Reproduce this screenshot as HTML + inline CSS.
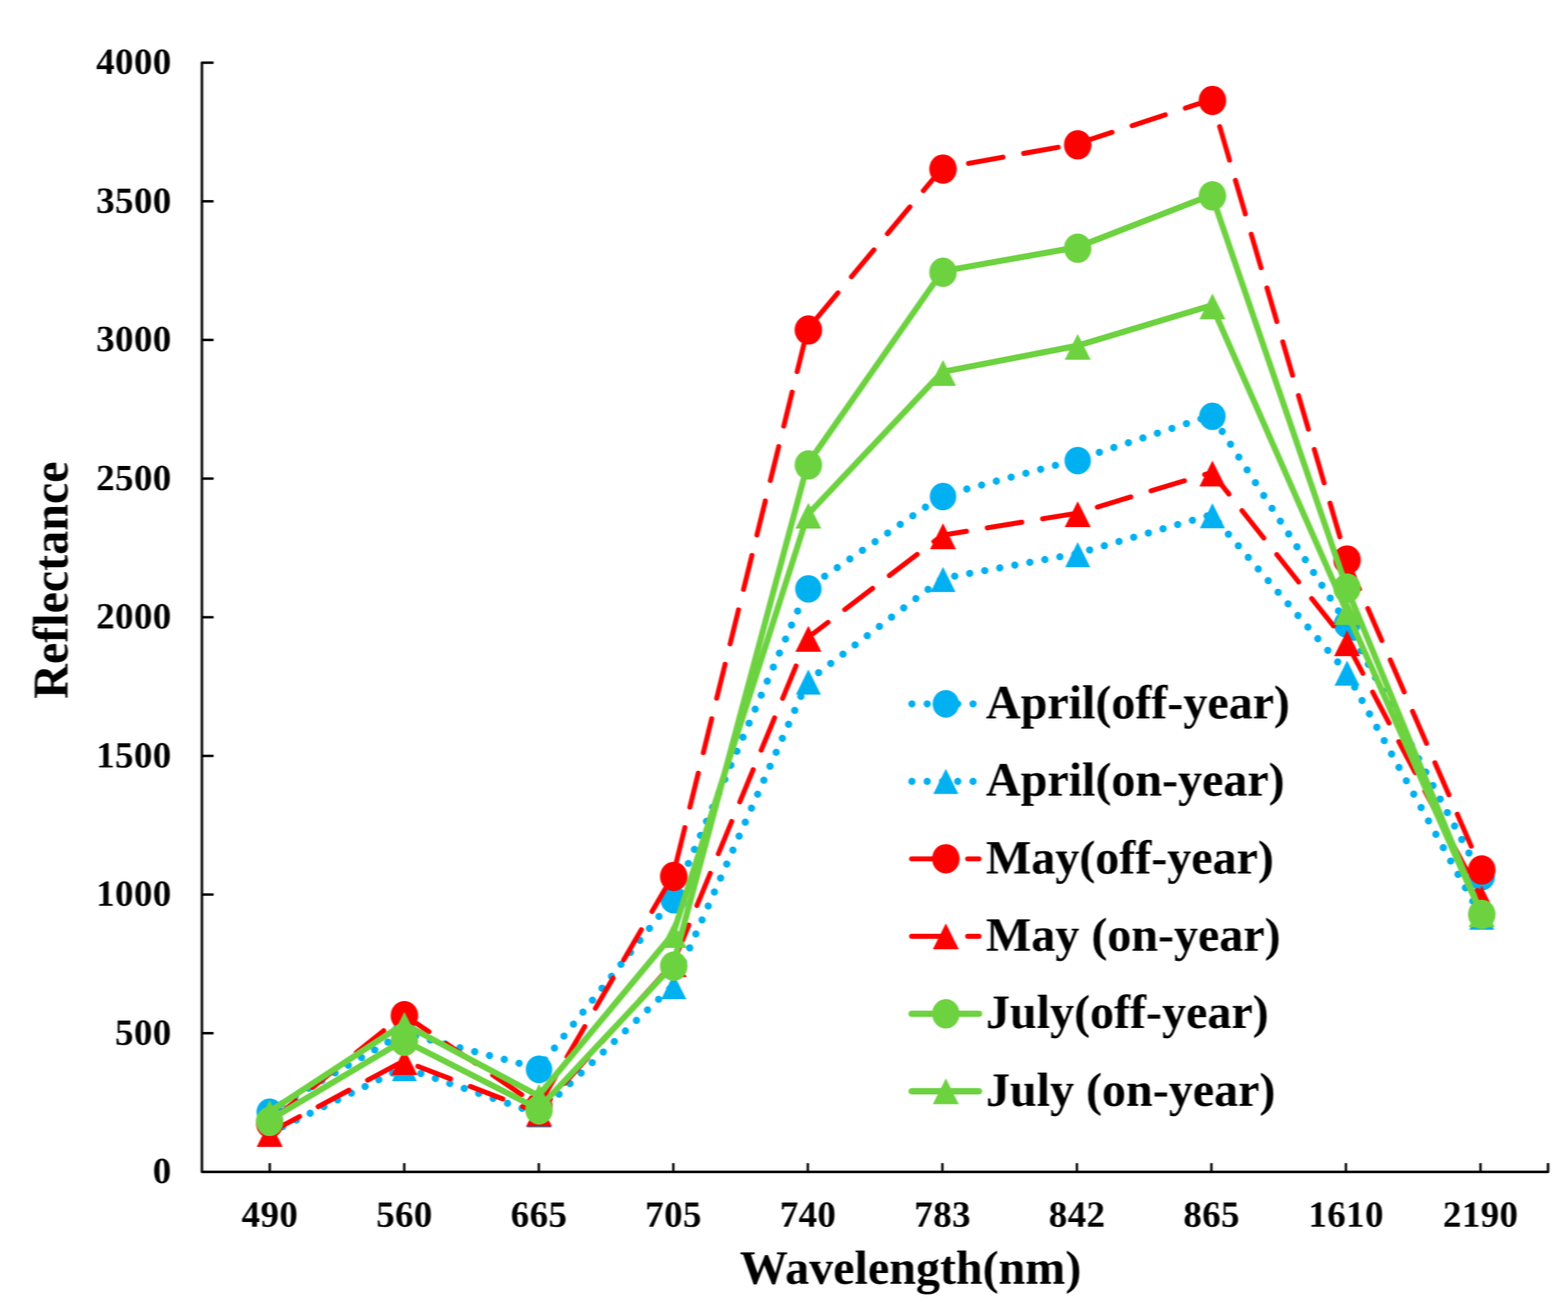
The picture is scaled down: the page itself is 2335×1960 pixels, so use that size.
<!DOCTYPE html>
<html lang="en"><head><meta charset="utf-8"><title>Reflectance vs Wavelength</title>
<style>html,body{margin:0;padding:0;background:#fff}svg{display:block}text{text-rendering:geometricPrecision;font-family:"Liberation Serif","DejaVu Serif",serif;font-weight:bold;fill:#000}.tk{font-size:55px;letter-spacing:0.6px}.tt{font-size:71.5px}.lg{font-size:71.5px}</style></head><body>
<svg width="2335" height="1960" viewBox="0 0 2335 1960">
<rect width="2335" height="1960" fill="#fff"/>
<defs><filter id="soft" filterUnits="userSpaceOnUse" x="0" y="0" width="2335" height="1960" color-interpolation-filters="sRGB"><feGaussianBlur stdDeviation="1.3 0.7"/></filter></defs>
<g filter="url(#soft)">
<g id="series">
<path d="M400.6 1655.1 L601.2 1538.5 L801.7 1591.1 L1002.3 1338.5 L1202.8 875.5 L1403.3 738 L1603.9 684.5 L1804.5 618.5 L2005 928 L2205.6 1304.3" fill="none" stroke="#00B0F0" stroke-width="10.8" stroke-linecap="round" stroke-linejoin="round" stroke-dasharray="0.01 22.745"/>
<ellipse cx="401.6" cy="1656.6" rx="19.7" ry="20.6" fill="#00B0F0"/>
<ellipse cx="602.2" cy="1540" rx="19.7" ry="20.6" fill="#00B0F0"/>
<ellipse cx="802.7" cy="1592.6" rx="19.7" ry="20.6" fill="#00B0F0"/>
<ellipse cx="1003.3" cy="1340" rx="19.7" ry="20.6" fill="#00B0F0"/>
<ellipse cx="1203.8" cy="877" rx="19.7" ry="20.6" fill="#00B0F0"/>
<ellipse cx="1404.3" cy="739.5" rx="19.7" ry="20.6" fill="#00B0F0"/>
<ellipse cx="1604.9" cy="686" rx="19.7" ry="20.6" fill="#00B0F0"/>
<ellipse cx="1805.5" cy="620" rx="19.7" ry="20.6" fill="#00B0F0"/>
<ellipse cx="2006" cy="929.5" rx="19.7" ry="20.6" fill="#00B0F0"/>
<ellipse cx="2206.6" cy="1305.8" rx="19.7" ry="20.6" fill="#00B0F0"/>
<path d="M400.6 1688 L601.2 1590 L801.7 1659 L1002.3 1467.8 L1202.8 1014.3 L1403.3 861.5 L1603.9 824.5 L1804.5 766.5 L2005 1001 L2205.6 1364.5" fill="none" stroke="#00B0F0" stroke-width="10.8" stroke-linecap="round" stroke-linejoin="round" stroke-dasharray="0.01 22.745"/>
<polygon points="401.6,1670.7 420.2,1708.3 383,1708.3" fill="#00B0F0"/>
<polygon points="602.2,1572.7 620.8,1610.3 583.6,1610.3" fill="#00B0F0"/>
<polygon points="802.7,1641.7 821.3,1679.3 784.1,1679.3" fill="#00B0F0"/>
<polygon points="1003.3,1450.5 1021.9,1488.1 984.7,1488.1" fill="#00B0F0"/>
<polygon points="1203.8,997 1222.4,1034.6 1185.2,1034.6" fill="#00B0F0"/>
<polygon points="1404.3,844.2 1422.9,881.8 1385.8,881.8" fill="#00B0F0"/>
<polygon points="1604.9,807.2 1623.5,844.8 1586.3,844.8" fill="#00B0F0"/>
<polygon points="1805.5,749.2 1824.1,786.8 1786.9,786.8" fill="#00B0F0"/>
<polygon points="2006,983.7 2024.6,1021.3 1987.4,1021.3" fill="#00B0F0"/>
<polygon points="2206.6,1347.2 2225.2,1384.8 2188,1384.8" fill="#00B0F0"/>
<path d="M400.6 1671.5 L601.2 1511.2 L801.7 1647.2 L1002.3 1303.8 L1202.8 489.9 L1403.3 250.3 L1603.9 214.2 L1804.5 148.1 L2005 832.6 L2205.6 1294.2" fill="none" stroke="#FF0000" stroke-width="7.4" stroke-linecap="round" stroke-linejoin="round" stroke-dasharray="52.1 31.4" stroke-dashoffset="0.5"/>
<ellipse cx="401.6" cy="1673" rx="20.5" ry="21.9" fill="#FF0000"/>
<ellipse cx="602.2" cy="1512.7" rx="20.5" ry="21.9" fill="#FF0000"/>
<ellipse cx="802.7" cy="1648.7" rx="20.5" ry="21.9" fill="#FF0000"/>
<ellipse cx="1003.3" cy="1305.3" rx="20.5" ry="21.9" fill="#FF0000"/>
<ellipse cx="1203.8" cy="491.4" rx="20.5" ry="21.9" fill="#FF0000"/>
<ellipse cx="1404.3" cy="251.8" rx="20.5" ry="21.9" fill="#FF0000"/>
<ellipse cx="1604.9" cy="215.7" rx="20.5" ry="21.9" fill="#FF0000"/>
<ellipse cx="1805.5" cy="149.6" rx="20.5" ry="21.9" fill="#FF0000"/>
<ellipse cx="2006" cy="834.1" rx="20.5" ry="21.9" fill="#FF0000"/>
<ellipse cx="2206.6" cy="1295.7" rx="20.5" ry="21.9" fill="#FF0000"/>
<path d="M400.6 1687.3 L601.2 1580.1 L801.7 1656.9 L1002.3 1434.5 L1202.8 949.9 L1403.3 797.1 L1603.9 764.3 L1804.5 703.7 L2005 956.5 L2205.6 1337" fill="none" stroke="#FF0000" stroke-width="7.4" stroke-linecap="round" stroke-linejoin="round" stroke-dasharray="52.1 31.4" stroke-dashoffset="0.5"/>
<polygon points="401.6,1669.5 420.9,1708.1 382.3,1708.1" fill="#FF0000"/>
<polygon points="602.2,1562.3 621.5,1600.9 582.9,1600.9" fill="#FF0000"/>
<polygon points="802.7,1639.1 822,1677.7 783.4,1677.7" fill="#FF0000"/>
<polygon points="1003.3,1416.7 1022.6,1455.3 984,1455.3" fill="#FF0000"/>
<polygon points="1203.8,932.1 1223.1,970.7 1184.5,970.7" fill="#FF0000"/>
<polygon points="1404.3,779.3 1423.6,817.9 1385,817.9" fill="#FF0000"/>
<polygon points="1604.9,746.5 1624.2,785.1 1585.6,785.1" fill="#FF0000"/>
<polygon points="1805.5,685.9 1824.8,724.5 1786.2,724.5" fill="#FF0000"/>
<polygon points="2006,938.7 2025.3,977.3 1986.7,977.3" fill="#FF0000"/>
<polygon points="2206.6,1319.2 2225.9,1357.8 2187.2,1357.8" fill="#FF0000"/>
<path d="M400.6 1668.7 L601.2 1549.4 L801.7 1651.5 L1002.3 1437.5 L1202.8 690.9 L1403.3 404 L1603.9 368.2 L1804.5 290.2 L2005 874.4 L2205.6 1360.3" fill="none" stroke="#6DD240" stroke-width="9" stroke-linecap="round" stroke-linejoin="round"/>
<ellipse cx="401.6" cy="1670.2" rx="20.5" ry="21.9" fill="#6DD240"/>
<ellipse cx="602.2" cy="1550.9" rx="20.5" ry="21.9" fill="#6DD240"/>
<ellipse cx="802.7" cy="1653" rx="20.5" ry="21.9" fill="#6DD240"/>
<ellipse cx="1003.3" cy="1439" rx="20.5" ry="21.9" fill="#6DD240"/>
<ellipse cx="1203.8" cy="692.4" rx="20.5" ry="21.9" fill="#6DD240"/>
<ellipse cx="1404.3" cy="405.5" rx="20.5" ry="21.9" fill="#6DD240"/>
<ellipse cx="1604.9" cy="369.7" rx="20.5" ry="21.9" fill="#6DD240"/>
<ellipse cx="1805.5" cy="291.7" rx="20.5" ry="21.9" fill="#6DD240"/>
<ellipse cx="2006" cy="875.9" rx="20.5" ry="21.9" fill="#6DD240"/>
<ellipse cx="2206.6" cy="1361.8" rx="20.5" ry="21.9" fill="#6DD240"/>
<path d="M400.6 1656.1 L601.2 1524.9 L801.7 1632 L1002.3 1391 L1202.8 766.5 L1403.3 553.9 L1603.9 515 L1804.5 454.8 L2005 910 L2205.6 1360" fill="none" stroke="#6DD240" stroke-width="9" stroke-linecap="round" stroke-linejoin="round"/>
<polygon points="401.6,1638.3 420.9,1676.9 382.3,1676.9" fill="#6DD240"/>
<polygon points="602.2,1507.1 621.5,1545.7 582.9,1545.7" fill="#6DD240"/>
<polygon points="802.7,1614.2 822,1652.8 783.4,1652.8" fill="#6DD240"/>
<polygon points="1003.3,1373.2 1022.6,1411.8 984,1411.8" fill="#6DD240"/>
<polygon points="1203.8,748.7 1223.1,787.3 1184.5,787.3" fill="#6DD240"/>
<polygon points="1404.3,536.1 1423.6,574.7 1385,574.7" fill="#6DD240"/>
<polygon points="1604.9,497.2 1624.2,535.8 1585.6,535.8" fill="#6DD240"/>
<polygon points="1805.5,437 1824.8,475.6 1786.2,475.6" fill="#6DD240"/>
<polygon points="2006,892.2 2025.3,930.8 1986.7,930.8" fill="#6DD240"/>
<polygon points="2206.6,1342.2 2225.9,1380.8 2187.2,1380.8" fill="#6DD240"/>
</g>
<g id="axes" stroke="#000" stroke-width="3.7" fill="none" stroke-linecap="butt" stroke-linejoin="round">
<path d="M318 93.3 H300.7 V1745.3 H2305.3 V1732.3"/>
<path d="M300.7 299.8 H318"/>
<path d="M300.7 506.3 H318"/>
<path d="M300.7 712.8 H318"/>
<path d="M300.7 919.3 H318"/>
<path d="M300.7 1125.8 H318"/>
<path d="M300.7 1332.3 H318"/>
<path d="M300.7 1538.8 H318"/>
<path d="M401.7 1745.3 V1732.3" stroke-width="3.5"/>
<path d="M602 1745.3 V1732.3" stroke-width="3.5"/>
<path d="M802.4 1745.3 V1732.3" stroke-width="3.5"/>
<path d="M1002.7 1745.3 V1732.3" stroke-width="3.5"/>
<path d="M1203 1745.3 V1732.3" stroke-width="3.5"/>
<path d="M1403.4 1745.3 V1732.3" stroke-width="3.5"/>
<path d="M1603.7 1745.3 V1732.3" stroke-width="3.5"/>
<path d="M1804 1745.3 V1732.3" stroke-width="3.5"/>
<path d="M2004.3 1745.3 V1732.3" stroke-width="3.5"/>
<path d="M2204.7 1745.3 V1732.3" stroke-width="3.5"/>
</g>
<g class="tk" text-anchor="end">
<text x="255.6" y="110.3">4000</text>
<text x="255.6" y="316.8">3500</text>
<text x="255.6" y="523.3">3000</text>
<text x="255.6" y="729.8">2500</text>
<text x="255.6" y="936.3">2000</text>
<text x="255.6" y="1142.8">1500</text>
<text x="255.6" y="1349.3">1000</text>
<text x="255.6" y="1555.8">500</text>
<text x="255.6" y="1762.3">0</text>
</g>
<g class="tk" text-anchor="middle">
<text x="402" y="1827">490</text>
<text x="602.3" y="1827">560</text>
<text x="802.7" y="1827">665</text>
<text x="1003" y="1827">705</text>
<text x="1203.3" y="1827">740</text>
<text x="1403.7" y="1827">783</text>
<text x="1604" y="1827">842</text>
<text x="1804.3" y="1827">865</text>
<text x="2004.6" y="1827">1610</text>
<text x="2205" y="1827">2190</text>
</g>
<text class="tt" text-anchor="middle" x="1356" y="1912">Wavelength(nm)</text>
<text class="tt" text-anchor="middle" style="font-feature-settings:&quot;dlig&quot; 1" transform="translate(100 864) rotate(-90) scale(1 1.04)">Reflectance</text>
<g id="legend">
<path d="M1358 1048.3 L1460 1048.3" fill="none" stroke="#00B0F0" stroke-width="10.8" stroke-linecap="round" stroke-linejoin="round" stroke-dasharray="0.01 22.745"/>
<ellipse cx="1408.5" cy="1048.3" rx="19.7" ry="20.6" fill="#00B0F0"/>
<text class="lg" x="1468.3" y="1069.8">April(off-year)</text>
<path d="M1358 1163.7 L1460 1163.7" fill="none" stroke="#00B0F0" stroke-width="10.8" stroke-linecap="round" stroke-linejoin="round" stroke-dasharray="0.01 22.745"/>
<polygon points="1408.5,1144.9 1427.1,1182.5 1389.9,1182.5" fill="#00B0F0"/>
<text class="lg" x="1468.3" y="1185.2">April(on-year)</text>
<path d="M1357.5 1279.1 L1458 1279.1" fill="none" stroke="#FF0000" stroke-width="7.4" stroke-linecap="round" stroke-linejoin="round" stroke-dasharray="52.1 31.4"/>
<ellipse cx="1408.5" cy="1279.1" rx="20.5" ry="21.9" fill="#FF0000"/>
<text class="lg" x="1468.3" y="1300.6">May(off-year)</text>
<path d="M1357.5 1394.5 L1458 1394.5" fill="none" stroke="#FF0000" stroke-width="7.4" stroke-linecap="round" stroke-linejoin="round" stroke-dasharray="52.1 31.4"/>
<polygon points="1408.5,1375.2 1427.8,1413.8 1389.2,1413.8" fill="#FF0000"/>
<text class="lg" x="1468.3" y="1416">May (on-year)</text>
<path d="M1357.5 1509.9 L1458 1509.9" fill="none" stroke="#6DD240" stroke-width="9.4" stroke-linecap="round" stroke-linejoin="round"/>
<ellipse cx="1408.5" cy="1509.9" rx="20.5" ry="21.9" fill="#6DD240"/>
<text class="lg" x="1468.3" y="1531.4">July(off-year)</text>
<path d="M1357.5 1625.3 L1458 1625.3" fill="none" stroke="#6DD240" stroke-width="9.4" stroke-linecap="round" stroke-linejoin="round"/>
<polygon points="1408.5,1606 1427.8,1644.6 1389.2,1644.6" fill="#6DD240"/>
<text class="lg" x="1468.3" y="1646.8">July (on-year)</text>
</g>
</g>
</svg></body></html>
